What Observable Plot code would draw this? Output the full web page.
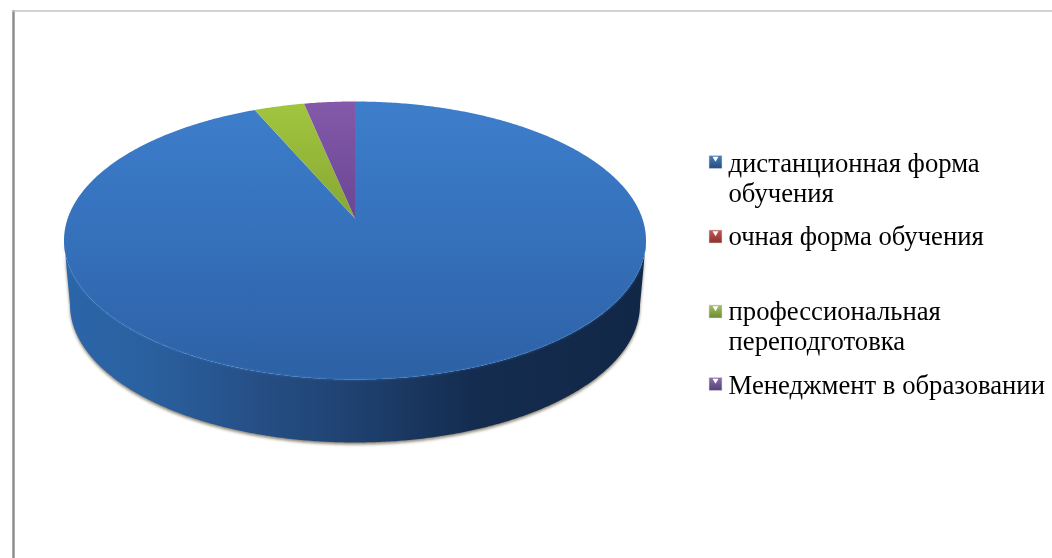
<!DOCTYPE html>
<html><head><meta charset="utf-8">
<script src="https://cdn.jsdelivr.net/npm/d3@7"></script>
<script src="https://cdn.jsdelivr.net/npm/@observablehq/plot@0.6"></script>
<style>html,body{margin:0;padding:0;background:#fff}svg{display:block;filter:blur(.45px)}</style>
</head><body><div id="chart"></div>
<script>
const categories = ["дистанционная форма\nобучения","очная форма обучения","профессиональная\nпереподготовка","Менеджмент в образовании"];
const shares = [94.4, 0, 2.8, 2.8];
const faceGradients = ["faceBlue","faceRed","faceGreen","facePurple"];
const swatchGradients = ["swBlue","swRed","swGreen","swPurple"];

const W = 1052, H = 558;
const top_ = {cx:354.5, cy:240, rx:291, ry:139, apexX:354.5, apexY:218};
const bottom = {cx:354.5, cy:304, rx:285, ry:138};
const onEllipse = (e, deg) => { const t = deg*Math.PI/180; return {x:e.cx+e.rx*Math.sin(t), y:e.cy-e.ry*Math.cos(t)}; };
const arc = (e, a, b) => d3.range(0, 1.0001, 1/Math.max(2, Math.ceil(Math.abs(b-a)*2))).map(k => onEllipse(e, a+(b-a)*k));

const total = d3.sum(shares);
let cum = 0;
const wedges = shares.map((v,i) => {
  const a = cum/total*360; cum += v; const b = cum/total*360;
  return {fill:`url(#${faceGradients[i]})`, pts: v>0 ? [{x:top_.apexX,y:top_.apexY}, ...arc(top_,a,b)] : []};
});
const sideRim = [...arc(top_,90,270), ...arc(bottom,270,90)];
const rim = arc(top_,100,260);

const lblY = [201,244,349,393], swY = [161.5,236,311,383.5];
const legend = categories.map((c,i)=>({label:c, y:lblY[i], sy:swY[i], fill:`url(#${swatchGradients[i]})`}));

const stops = (id, c, attrs) => `<linearGradient id="${id}" ${attrs}>${c.map(([o,col])=>`<stop offset="${o}" stop-color="${col}"/>`).join("")}</linearGradient>`;
const vUser = (a,b)=>`gradientUnits="userSpaceOnUse" x1="0" x2="0" y1="${a}" y2="${b}"`;
const vBox = `x1="0" x2="0" y1="0" y2="1"`;
const defsMark = () => {
  const d = document.createElementNS("http://www.w3.org/2000/svg","defs");
  d.innerHTML =
    stops("faceBlue",[[0,"#3d7ecb"],[.5,"#3570bb"],[1,"#2d61a5"]],vUser(101,379)) +
    stops("faceRed",[[0,"#c0504d"],[1,"#a03c3a"]],vUser(101,379)) +
    stops("faceGreen",[[0,"#a2c53f"],[1,"#86a734"]],vUser(104,218)) +
    stops("facePurple",[[0,"#8459aa"],[1,"#6a4694"]],vUser(101,218)) +
    stops("side",[[0,"#2b66a9"],[.15,"#2a609f"],[.33,"#264f86"],[.5,"#1f4170"],[.7,"#142c4f"],[1,"#112747"]],
      `gradientUnits="userSpaceOnUse" x1="63" x2="646" y1="0" y2="0"`) +
    stops("swBlue",[[0,"#4a7fb8"],[1,"#234d80"]],vBox) +
    stops("swRed",[[0,"#c25a58"],[1,"#8c2f2d"]],vBox) +
    stops("swGreen",[[0,"#a6bf66"],[1,"#6d8a33"]],vBox) +
    stops("swPurple",[[0,"#8a70aa"],[1,"#55407a"]],vBox);
  return d;
};

const plot = Plot.plot({
  width:W, height:H, margin:0,
  x:{type:"identity",axis:null}, y:{type:"identity",axis:null},
  marks:[
    defsMark,
    Plot.ruleX([13],{y1:10,y2:H,stroke:"#8a8a8a",strokeWidth:2.4}),
    Plot.ruleY([10.5],{x1:12,x2:W,stroke:"#c4c4c4",strokeWidth:1.4}),
    Plot.line(sideRim.map(p=>({x:p.x,y:p.y+2})),{x:"x",y:"y",fill:"#8c8574",stroke:"none",imageFilter:"blur(1.6px)"}),
    Plot.line(sideRim,{x:"x",y:"y",fill:"url(#side)",stroke:"none"}),
    ...wedges.filter(w=>w.pts.length).map(w=>Plot.line(w.pts,{x:"x",y:"y",fill:w.fill,stroke:"none"})),
    Plot.line(rim,{x:"x",y:"y",stroke:"#3f86d6",strokeWidth:1.4,strokeOpacity:.4,imageFilter:"blur(.8px)"}),
    Plot.dot(legend,{x:()=>715,y:"sy",r:7.3,symbol:"square",fill:"fill",stroke:"#d8d8d8",strokeWidth:.5}),
    Plot.dot(legend,{x:()=>715,y:d=>d.sy-3.6,r:2.2,symbol:"triangle",rotate:180,fill:"#fff",stroke:"none"}),
    Plot.text(legend,{x:()=>728,y:"y",text:"label",textAnchor:"start",lineAnchor:"bottom",lineHeight:1.124,
      fontFamily:"Liberation Serif",fontSize:26.7,fill:"#000"})
  ]
});
document.getElementById("chart").append(plot);
</script></body></html>
